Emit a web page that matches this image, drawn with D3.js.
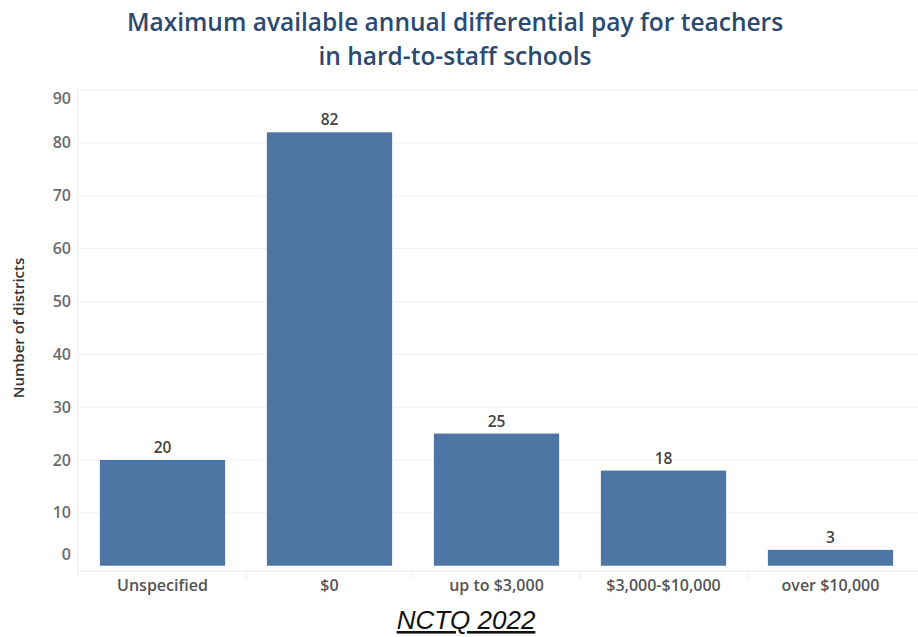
<!DOCTYPE html>
<html><head><meta charset="utf-8">
<script src="https://cdn.jsdelivr.net/npm/d3@7"></script>
<style>body{margin:0;background:#fff}svg{display:block}</style>
</head><body>
<svg id="chart" width="918" height="637"></svg>
<script>
const categories = ["Unspecified", "$0", "up to $3,000", "$3,000-$10,000", "over $10,000"];
const values = [20, 82, 25, 18, 3];
const yTicks = [0, 10, 20, 30, 40, 50, 60, 70, 80, 90];
const titleLines = ["Maximum available annual differential pay for teachers", "in hard-to-staff schools"];
const yTitle = "Number of districts";
const footer = "NCTQ 2022";

const svg = d3.select("#chart");
const mLeft = 79, mRight = 914, mTop = 90, mBottom = 571;

const x = d3.scaleBand().domain(categories).range([mLeft, mRight]).paddingInner(0.25).paddingOuter(0.125);
const y = d3.scaleLinear().domain([-1, 90]).range([mBottom, mTop]);

// gridlines
svg.append("g").selectAll("line").data(yTicks.filter(d => d > 0)).join("line")
  .attr("x1", mLeft).attr("x2", 918)
  .attr("y1", d => y(d)).attr("y2", d => y(d))
  .attr("stroke", "#f0f0f0").attr("stroke-width", 1);

// axis lines
svg.append("line").attr("x1", mLeft - 1).attr("x2", mLeft - 1).attr("y1", mTop - 2).attr("y2", mBottom + 6)
  .attr("stroke", "#ececec");
svg.append("line").attr("x1", mLeft).attr("x2", 918).attr("y1", mBottom).attr("y2", mBottom)
  .attr("stroke", "#e6e6e6");
// category dividers
const step = x.step();
svg.append("g").selectAll("line").data(categories.slice(1)).join("line")
  .attr("x1", d => x(d) - (step - x.bandwidth()) / 2).attr("x2", d => x(d) - (step - x.bandwidth()) / 2)
  .attr("y1", mBottom).attr("y2", mBottom + 8).attr("stroke", "#ececec");

// bars
svg.append("g").selectAll("rect").data(values).join("rect")
  .attr("x", (d, i) => x(categories[i]))
  .attr("width", x.bandwidth())
  .attr("y", d => y(d))
  .attr("height", d => y(0) - y(d))
  .attr("fill", "#4e76a4");

// value labels
svg.append("g").selectAll("text").data(values).join("text")
  .attr("x", (d, i) => x(categories[i]) + x.bandwidth() / 2)
  .attr("y", d => y(d) - 7)
  .attr("text-anchor", "middle")
  .attr("font-family", "'Open Sans', sans-serif").attr("font-weight", 600).attr("font-size", 15.5)
  .attr("fill", "#444").text(d => d);

// y tick labels
svg.append("g").selectAll("text").data(yTicks).join("text")
  .attr("x", 71)
  .attr("y", d => d === 0 ? y(0) - 11 : d === 90 ? y(90) + 8 : y(d))
  .attr("dy", "0.35em")
  .attr("text-anchor", "end")
  .attr("font-family", "'Open Sans', sans-serif").attr("font-weight", 600).attr("font-size", 16)
  .attr("fill", "#6b6b6b").text(d => d);

// x labels
svg.append("g").selectAll("text").data(categories).join("text")
  .attr("x", d => x(d) + x.bandwidth() / 2)
  .attr("y", 591)
  .attr("text-anchor", "middle")
  .attr("font-family", "'Open Sans', sans-serif").attr("font-weight", 600).attr("font-size", 16)
  .attr("fill", "#555").text(d => d);

// y title
svg.append("text")
  .attr("transform", "translate(24,328) rotate(-90)")
  .attr("text-anchor", "middle")
  .attr("font-family", "'Open Sans', sans-serif").attr("font-weight", 600).attr("font-size", 15)
  .attr("fill", "#333").text(yTitle);

// title
svg.append("g").selectAll("text").data(titleLines).join("text")
  .attr("x", 455).attr("y", (d, i) => 31 + i * 34)
  .attr("text-anchor", "middle")
  .attr("font-family", "'Open Sans', sans-serif").attr("font-weight", 600).attr("font-size", 24.5)
  .attr("fill", "#2c4a70").text(d => d);

// footer
svg.append("text")
  .attr("x", 466).attr("y", 629)
  .attr("text-anchor", "middle")
  .attr("font-family", "'Liberation Sans Narrow', 'Arial Narrow', sans-serif")
  .attr("font-style", "italic").attr("font-size", 26)
  .attr("text-decoration", "underline")
  .attr("fill", "#111").text(footer);
</script>
</body></html>
